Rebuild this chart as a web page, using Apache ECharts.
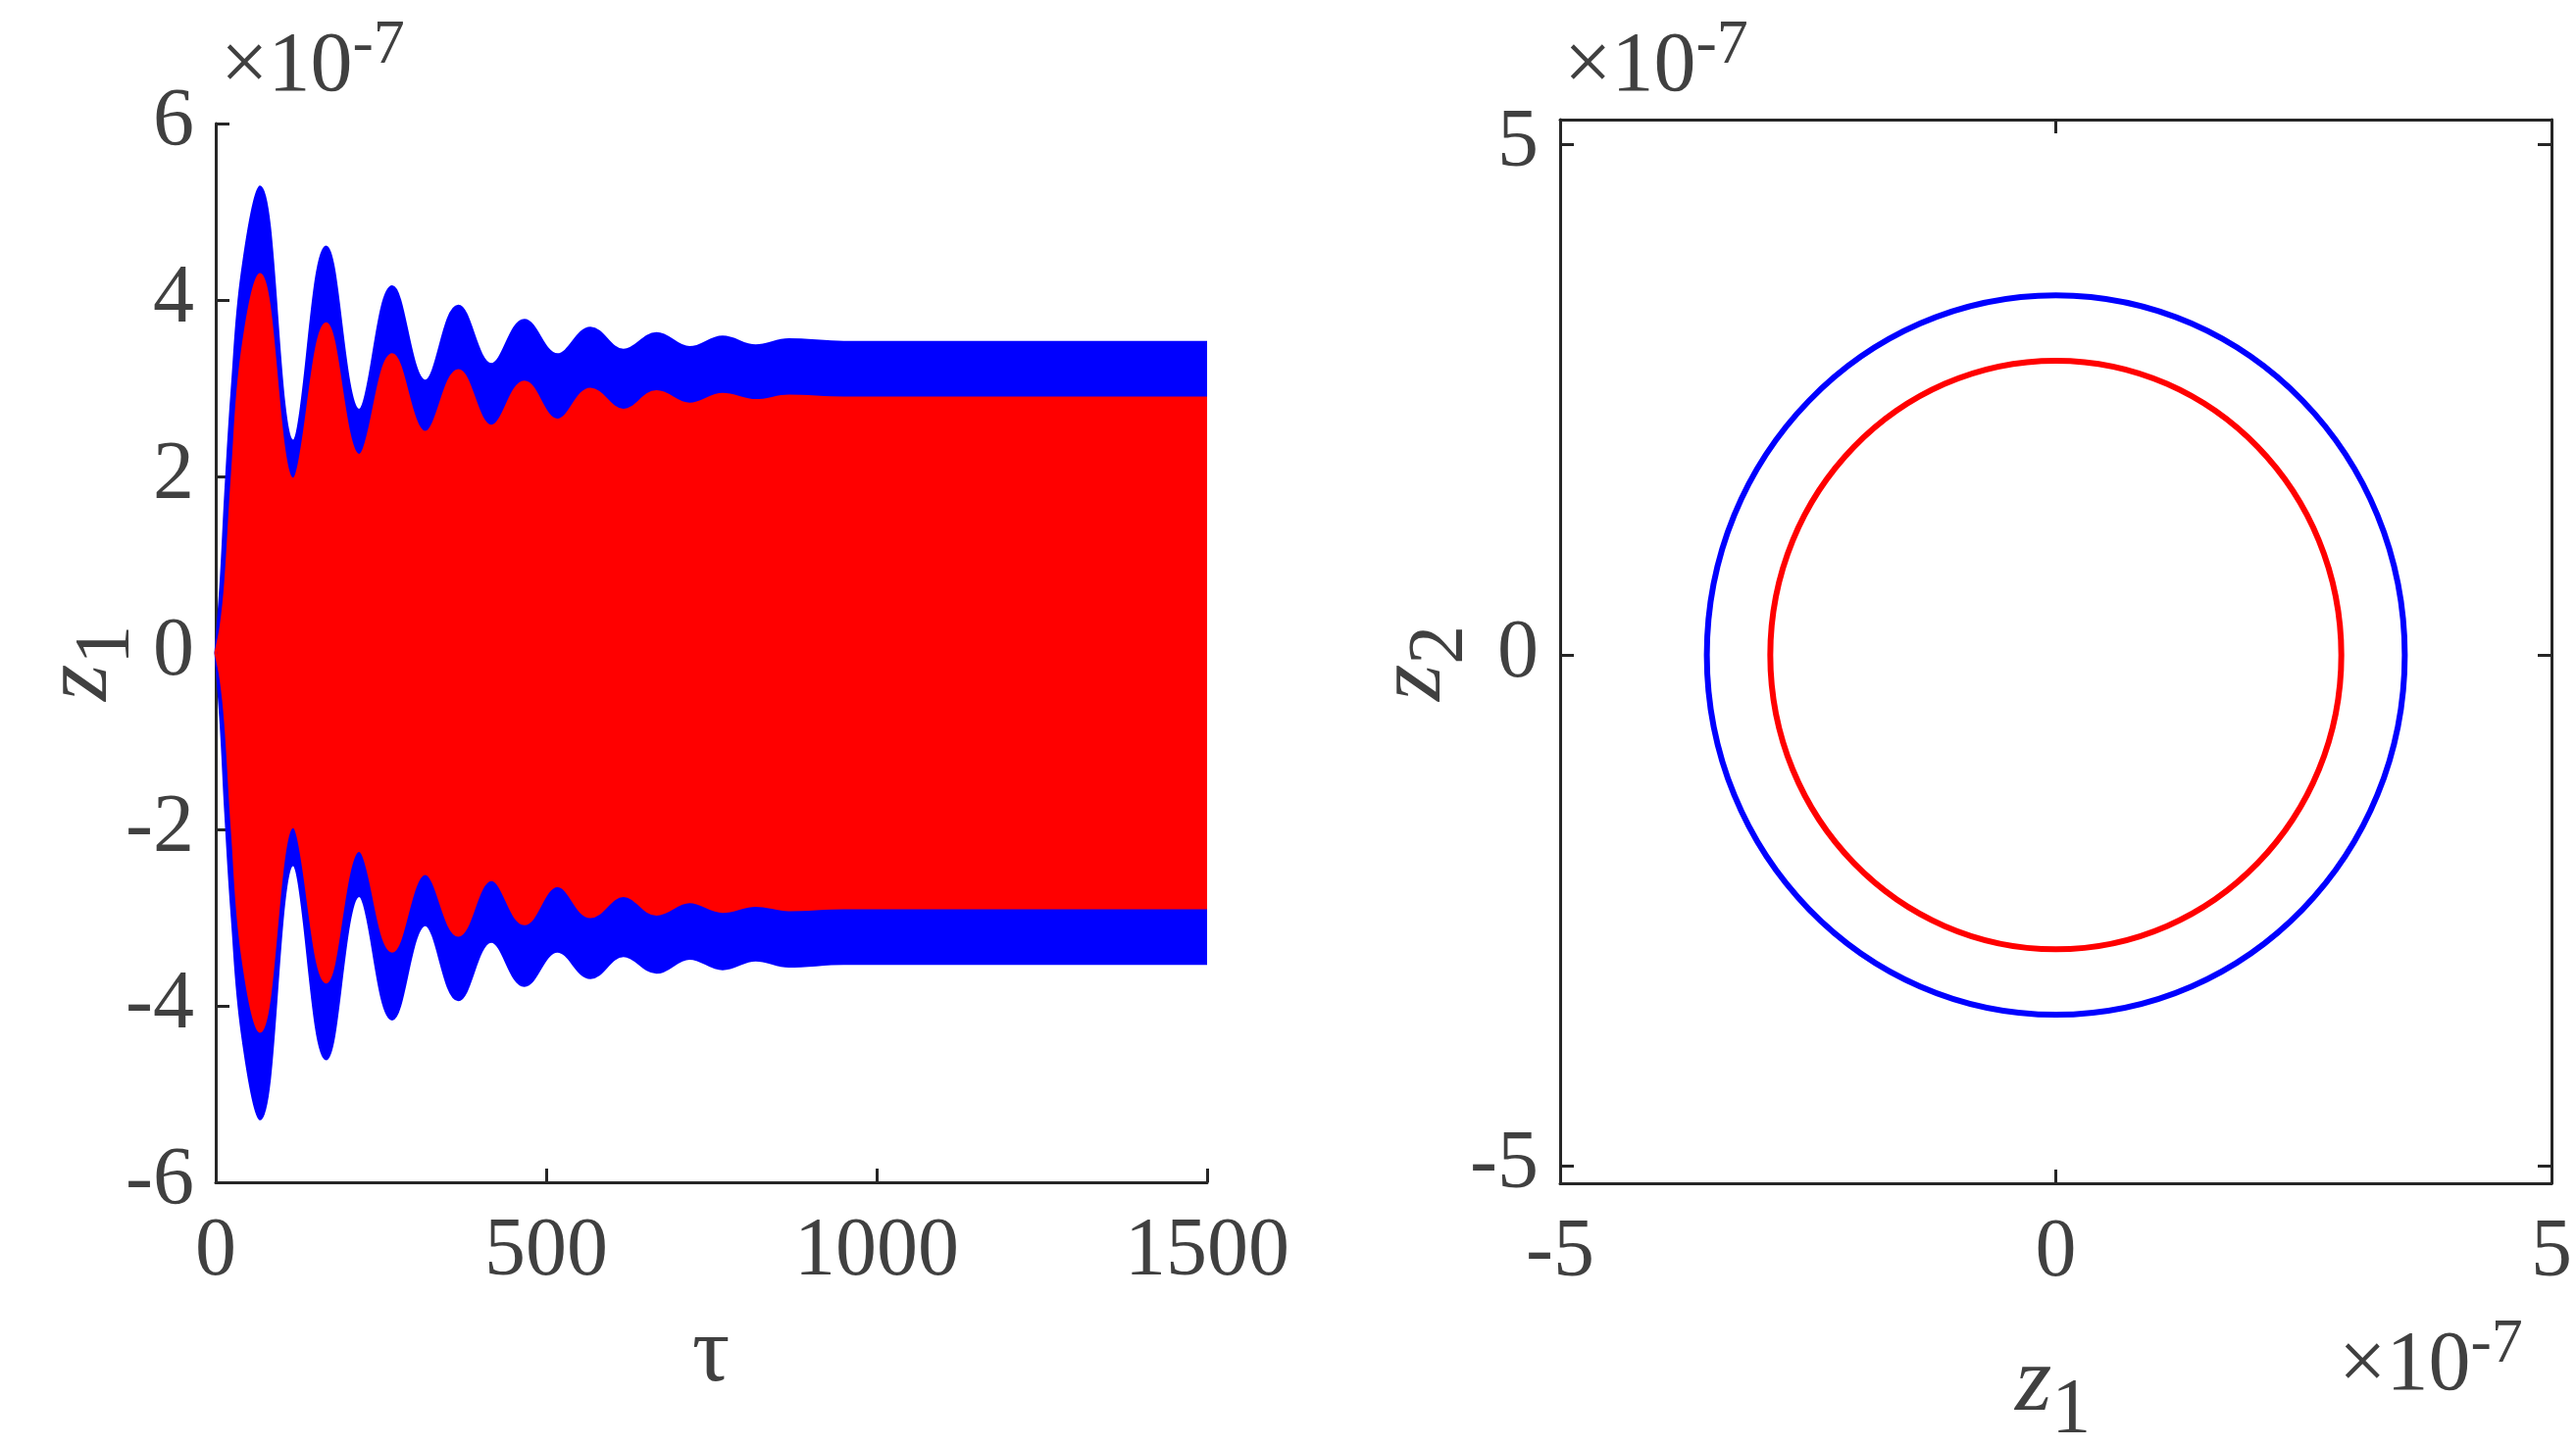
<!DOCTYPE html>
<html>
<head>
<meta charset="UTF-8">
<script src="https://cdn.jsdelivr.net/npm/echarts/dist/echarts.min.js"></script>
<style>
  html, body { margin: 0; padding: 0; background: #fff; }
  #chart { width: 2627px; height: 1476px; }
</style>
</head>
<body>
<div id="chart"></div>
<script>
// envelope of z1(tau), units of 1e-7
var tau      = [0, 8, 15, 25, 40, 67, 117, 167, 217, 267, 317, 367, 417, 467, 517, 567, 617, 667, 717, 767, 817, 867, 950, 1100, 1300, 1500];
var blueUp   = [0, 0.8, 1.8, 3.0, 4.3, 5.28, 2.4, 4.6, 2.75, 4.15, 3.08, 3.93, 3.27, 3.77, 3.38, 3.68, 3.43, 3.62, 3.46, 3.58, 3.48, 3.55, 3.52, 3.52, 3.52, 3.52];
var redUp    = [0, 0.3, 0.8, 2.0, 3.4, 4.29, 1.97, 3.73, 2.24, 3.38, 2.5, 3.2, 2.57, 3.07, 2.64, 2.99, 2.75, 2.96, 2.82, 2.93, 2.86, 2.91, 2.89, 2.89, 2.89, 2.89];
var radii    = [3.52, 2.88];
var circleColors = ['#0000ff', '#ff0000'];
var rightTicks  = [-5, 0, 5];

function pairs(sign, arr) { return tau.map(function (t, i) { return [t, sign * arr[i]]; }); }

var font = 'Times New Roman, Liberation Serif, Tinos, serif';
var grey = '#404040';
var axisLine = { onZero: false, lineStyle: { color: '#262626', width: 3 } };
var tickStyle = { inside: true, length: 14, lineStyle: { color: '#262626', width: 3 } };
var lbl = { color: grey, fontFamily: font, fontSize: 84, formatter: function (v) { return String(v); } };

function envSeries(data, color) {
  return { type: 'line', xAxisIndex: 0, yAxisIndex: 0, data: data, smooth: 0.4, symbol: 'none',
    lineStyle: { color: color, width: 3 }, areaStyle: { color: color, opacity: 1 }, silent: true };
}
function expText(x, y) {
  return { type: 'text', left: x, top: y, style: { text: '×10{s|-7}', fill: grey, fontSize: 86, fontFamily: font,
    rich: { s: { fontSize: 64, fontFamily: font, fill: grey, padding: [0, 0, 45, 0] } } } };
}
function subText(x, y, sub, rot) {
  return { type: 'text', x: x, y: y, rotation: rot, style: { text: '{i|z}{b|' + sub + '}', fill: grey,
    rich: { i: { fontSize: 96, fontStyle: 'italic', fontFamily: font, fill: grey },
            b: { fontSize: 80, fontFamily: font, fill: grey, padding: [55, 0, 0, 0] } } } };
}

var chart = echarts.init(document.getElementById('chart'));
chart.setOption({
  animation: false,
  backgroundColor: '#fff',
  grid: [
    { left: 220, top: 126, width: 1011, height: 1080 },
    { left: 1591, top: 122, width: 1011, height: 1085 }
  ],
  xAxis: [
    { gridIndex: 0, type: 'value', min: 0, max: 1500, interval: 500,
      axisLine: axisLine, axisTick: tickStyle, splitLine: { show: false },
      axisLabel: Object.assign({ margin: 30 }, lbl) },
    { gridIndex: 1, type: 'value', min: -5, max: 5, interval: 5,
      axisLine: axisLine, axisTick: tickStyle, splitLine: { show: false },
      axisLabel: Object.assign({ margin: 30 }, lbl) },
    { gridIndex: 1, type: 'value', min: -5, max: 5, interval: 5, position: 'top',
      axisLine: axisLine, axisTick: tickStyle, axisLabel: { show: false }, splitLine: { show: false } }
  ],
  yAxis: [
    { gridIndex: 0, type: 'value', min: -6, max: 6, interval: 2,
      axisLine: axisLine, axisTick: tickStyle, splitLine: { show: false },
      axisLabel: Object.assign({ margin: 22 }, lbl) },
    { gridIndex: 1, type: 'value', min: -5.17, max: 5.24,
      axisLine: axisLine, splitLine: { show: false },
      axisTick: Object.assign({ customValues: rightTicks }, tickStyle),
      axisLabel: Object.assign({ margin: 22, customValues: rightTicks }, lbl) },
    { gridIndex: 1, type: 'value', min: -5.17, max: 5.24, position: 'right',
      axisLine: axisLine, splitLine: { show: false },
      axisTick: Object.assign({ customValues: rightTicks }, tickStyle),
      axisLabel: { show: false } }
  ],
  series: [
    envSeries(pairs(1, blueUp), '#0000ff'),
    envSeries(pairs(-1, blueUp), '#0000ff'),
    envSeries(pairs(1, redUp), '#ff0000'),
    envSeries(pairs(-1, redUp), '#ff0000'),
    { type: 'custom', xAxisIndex: 1, yAxisIndex: 1, silent: true,
      data: radii.map(function (r, i) { return [0, 0, r, i]; }),
      renderItem: function (params, api) {
        var c = api.coord([api.value(0), api.value(1)]);
        var s = api.size([api.value(2), api.value(2)]);
        return { type: 'ellipse', shape: { cx: c[0], cy: c[1], rx: s[0], ry: s[1] },
          style: { fill: 'none', stroke: circleColors[api.value(3)], lineWidth: 6 } };
      } }
  ],
  graphic: [
    expText(225, 15),
    expText(1595, 15),
    expText(2385, 1340),
    { type: 'text', x: 725, y: 1335, style: { text: 'τ', fill: grey, fontSize: 96, fontFamily: font, align: 'center' } },
    subText(2055, 1345, '1', 0),
    subText(15, 715, '1', Math.PI / 2),
    subText(1375, 715, '2', Math.PI / 2)
  ]
});
</script>
</body>
</html>
